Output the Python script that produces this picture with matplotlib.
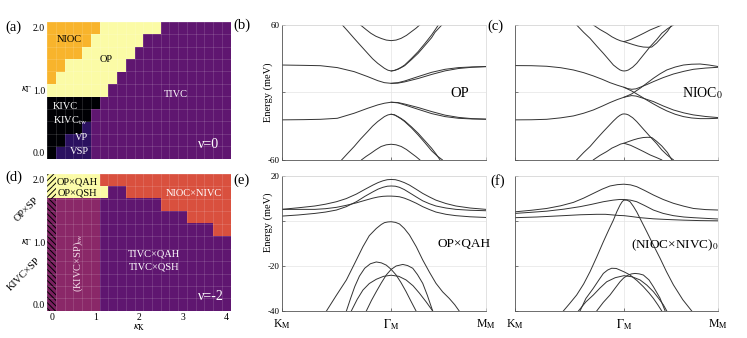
import numpy as np
import matplotlib.pyplot as plt
from matplotlib.colors import ListedColormap
from matplotlib.patches import Rectangle

plt.rcParams['font.family'] = ['Liberation Serif', 'DejaVu Serif']
plt.rcParams['mathtext.fontset'] = 'stix'
plt.rcParams['hatch.linewidth'] = 0.7

# ---------------- phase diagrams ----------------
kappa_K = np.round(np.arange(0, 4.01, 0.2), 2)   # columns
kappa_G = np.round(np.arange(0, 2.01, 0.2), 2)   # rows, bottom -> top

# rows listed from kappa_Gamma = 2.0 (top) down to 0.0
phase_nu0 = [
    "NNNNNNOOOOOOOTTTTTTTT",
    "NNNNNOOOOOOTTTTTTTTTT",
    "NNNNOOOOOOTTTTTTTTTTT",
    "NNOOOOOOOTTTTTTTTTTTT",
    "NOOOOOOOTTTTTTTTTTTTT",
    "OOOOOOOTTTTTTTTTTTTTT",
    "KKKKKKTTTTTTTTTTTTTTT",
    "KKKKKTTTTTTTTTTTTTTTT",
    "KKKKVTTTTTTTTTTTTTTTT",
    "KKVVVTTTTTTTTTTTTTTTT",
    "KVVVVTTTTTTTTTTTTTTTT",
]
phase_nu2 = [
    "HOOOOORRRRRRRRRRRRRRR",
    "HOOOOOOTTRRRRRRRRRRRR",
    "SMMMMMTTTTTTTRRRRRRRR",
    "SMMMMMTTTTTTTTTTRRRRR",
    "SMMMMMTTTTTTTTTTTTTRR",
    "SMMMMMTTTTTTTTTTTTTTT",
    "SMMMMMTTTTTTTTTTTTTTT",
    "SMMMMMTTTTTTTTTTTTTTT",
    "SMMMMMTTTTTTTTTTTTTTT",
    "SMMMMMTTTTTTTTTTTTTTT",
    "SMMMMMTTTTTTTTTTTTTTT",
]
phase_colors = {
    'N': '#f8b42c', 'O': '#fbfba6', 'T': '#5f1670', 'K': '#000004',
    'V': '#2b1160', 'M': '#8a2868', 'R': '#d9503e', 'H': '#fbfba6',
    'S': '#7a2060',
}
phase_hatch = {'H': '//////', 'S': '\\\\\\\\\\\\'}

labels_nu0 = ['NIOC', 'OP', 'TIVC', 'KIVC', r'KIVC$_{\rm tw}$', 'VP', 'VSP']
labels_nu0_x = [0.40, 1.24, 2.84, 0.32, 0.42, 0.68, 0.63]
labels_nu0_y = [1.81, 1.49, 0.93, 0.73, 0.50, 0.23, 0.02]
labels_nu0_c = ['black', 'black', 'white', 'white', 'white', 'white', 'white']

labels_nu2 = ['OP×QAH', 'OP×QSH', 'NIOC×NIVC', 'TIVC×QAH', 'TIVC×QSH']
labels_nu2_x = [0.59, 0.59, 3.26, 2.34, 2.34]
labels_nu2_y = [1.97, 1.79, 1.79, 0.82, 0.61]
labels_nu2_c = ['black', 'black', 'white', 'white', 'white']

# ---------------- band structures (k: K_M=0, Gamma_M=1, M_M=1.866) ----------------
k_M = 1.866
k_ticks = [0, 1, k_M]
k_labels = [r'K$_{\rm M}$', r'$\Gamma_{\rm M}$', r'M$_{\rm M}$']

# (b) OP
b_top_k = [0.72, 0.77, 0.815, 0.86, 0.91, 0.955, 1.0, 1.045, 1.09, 1.14, 1.185, 1.225, 1.26]
b_top_e = [60, 56.0, 52.6, 50.0, 48.0, 46.6, 46.1, 46.6, 48.1, 50.8, 54.1, 57.0, 60]
b_v1_k = [0.554, 0.60, 0.662, 0.72, 0.785, 0.83, 0.877, 0.938, 0.97, 1.0, 1.03, 1.062,
          1.09, 1.123, 1.185, 1.246, 1.31, 1.369, 1.40, 1.431]
b_v1_e = [60, 55.0, 48.1, 41.8, 34.8, 30.0, 25.9, 21.5, 19.8, 19.1, 19.6, 20.9,
          22.3, 24.4, 30.2, 36.3, 43.8, 51.1, 55.5, 60]
b_v2_k = [1.0, 1.03, 1.062, 1.09, 1.123, 1.185, 1.246, 1.31, 1.369, 1.40, 1.462]
b_v2_e = [19.1, 19.6, 20.6, 22.0, 23.8, 29.2, 34.8, 42.0, 48.7, 53.5, 60]
b_f1_k = [0, 0.2, 0.354, 0.508, 0.662, 0.785, 0.877, 0.938, 1.0, 1.062, 1.123, 1.246,
          1.369, 1.492, 1.615, 1.738, 1.866]
b_f1_e = [24.4, 24.1, 23.8, 22.1, 18.5, 14.1, 10.5, 8.7, 8.1, 8.7, 10.2, 14.1,
          17.9, 20.6, 22.1, 22.7, 23.0]
b_f2_k = [1.0, 1.062, 1.123, 1.246, 1.369, 1.492, 1.615, 1.738, 1.866]
b_f2_e = [8.1, 8.3, 9.4, 12.4, 16.0, 19.2, 21.3, 22.4, 23.0]
b_f3_k = b_f1_k
b_f3_e = [-24.4, -24.2, -23.9, -23.0, -18.5, -14.1, -11.1, -9.6, -8.7, -9.3, -11.1, -15.0,
          -18.8, -21.5, -23.0, -23.6, -23.8]
b_f4_k = b_f2_k
b_f4_e = [-8.7, -9.0, -10.3, -13.4, -17.0, -20.2, -22.2, -23.3, -23.8]
b_v3_k = [0.548, 0.60, 0.662, 0.72, 0.785, 0.83, 0.877, 0.938, 0.97, 1.0, 1.03, 1.062,
          1.09, 1.123, 1.185, 1.246, 1.31, 1.369, 1.41, 1.446]
b_v3_e = [-60, -54.5, -48.1, -41.5, -34.8, -30.0, -25.9, -21.5, -20.0, -19.4, -19.9, -21.5,
          -23.1, -25.3, -30.6, -36.3, -43.2, -49.6, -54.8, -60]
b_v4_k = [1.0, 1.03, 1.062, 1.09, 1.123, 1.185, 1.246, 1.31, 1.369, 1.42, 1.468]
b_v4_e = [-19.4, -20.0, -21.8, -23.5, -25.9, -31.5, -37.8, -45.0, -51.9, -56.5, -60]
b_bot_k = [0.729, 0.77, 0.815, 0.86, 0.908, 0.955, 1.0, 1.045, 1.092, 1.14, 1.185, 1.225, 1.262]
b_bot_e = [-60, -57.0, -54.1, -51.0, -48.1, -46.6, -46.1, -46.6, -48.1, -50.8, -54.1, -57.0, -60]

# (c) NIOC_0
c_top_k = [0.719, 0.78, 0.842, 0.89, 0.934, 0.97, 1.0, 1.06, 1.117, 1.18, 1.240, 1.30, 1.347]
c_top_e = [60, 56.0, 52.6, 49.5, 47.3, 45.9, 45.2, 47.0, 49.6, 52.6, 55.6, 58.0, 60]
c_top2_k = [1.0, 1.045, 1.087, 1.13, 1.178, 1.22, 1.255, 1.30, 1.347, 1.40, 1.439]
c_top2_e = [45.2, 43.8, 42.5, 41.3, 40.4, 40.2, 40.4, 44.0, 49.0, 54.5, 60]
c_v1_k = [0.566, 0.63, 0.689, 0.75, 0.811, 0.86, 0.903, 0.94, 0.964, 0.985, 1.0, 1.02,
          1.041, 1.08, 1.117, 1.18, 1.240, 1.30, 1.347, 1.40, 1.454]
c_v1_e = [60, 53.5, 48.1, 41.3, 34.8, 29.3, 24.4, 21.6, 20.0, 19.3, 19.1, 19.3,
          20.0, 22.5, 25.9, 33.5, 40.7, 47.0, 52.6, 56.7, 60]
c_fa_k = [0, 0.15, 0.291, 0.42, 0.536, 0.63, 0.719, 0.80, 0.872, 0.94, 1.0, 1.071, 1.148,
          1.21, 1.270, 1.33, 1.393, 1.47, 1.546, 1.62, 1.699, 1.78, 1.867]
c_fa_e = [23.9, 23.8, 23.3, 22.0, 20.0, 17.6, 14.7, 11.7, 8.7, 6.4, 4.6, 1.3, -3.1,
          -6.8, -10.2, -13.4, -16.4, -19.4, -21.5, -22.7, -23.3, -23.3, -23.0]
c_fb_k = c_fa_k
c_fb_e = [-24.4, -24.3, -23.9, -22.6, -20.9, -18.5, -15.6, -12.2, -9.0, -6.3, -4.3, -1.3, 3.7,
          8.2, 12.6, 16.5, 20.0, 22.6, 24.4, 25.1, 25.3, 24.4, 23.0]
c_fc_k = [1.0, 1.035, 1.071, 1.11, 1.148, 1.21, 1.270, 1.36, 1.454, 1.55, 1.638, 1.75, 1.867]
c_fc_e = [4.6, 3.4, 2.8, 3.2, 4.6, 7.0, 9.6, 13.2, 16.4, 18.8, 20.6, 21.7, 22.4]
c_fd_k = c_fc_k
c_fd_e = [-4.3, -3.5, -2.8, -3.2, -4.3, -6.2, -8.1, -12.0, -15.6, -18.2, -20.0, -21.4, -22.4]
c_v2_k = c_v1_k
c_v2_e = [-60, -53.5, -48.1, -41.3, -34.8, -29.8, -25.4, -22.0, -20.3, -19.3, -19.1, -19.3,
          -20.0, -22.5, -25.9, -32.8, -39.3, -45.5, -51.1, -56.0, -60]
c_bot_k = c_top_k
c_bot_e = [-60, -56.0, -52.6, -49.5, -47.6, -45.9, -45.2, -47.0, -49.6, -52.6, -55.6, -58.0, -60]
c_bot2_k = c_top2_k
c_bot2_e = [-45.2, -43.6, -42.2, -41.0, -40.1, -39.9, -40.1, -43.5, -47.6, -53.5, -60]

# (e) OP x QAH
e_k = [0, 0.15, 0.303, 0.40, 0.5, 0.59, 0.682, 0.76, 0.833, 0.88, 0.924, 0.965, 1.0,
       1.038, 1.076, 1.12, 1.167, 1.23, 1.288, 1.35, 1.409, 1.50, 1.591, 1.72, 1.864]
e_c1 = [5.2, 5.9, 6.7, 7.5, 8.6, 10.0, 12.0, 14.1, 16.0, 17.1, 17.9, 18.4, 18.5,
        18.4, 17.9, 17.1, 16.0, 14.1, 12.3, 10.7, 9.3, 7.8, 6.7, 5.8, 5.2]
e_c2 = [2.2, 2.7, 3.4, 4.0, 4.9, 6.4, 8.6, 11.0, 13.0, 14.2, 15.0, 15.5, 15.6,
        15.5, 15.0, 14.0, 12.6, 10.7, 9.0, 7.7, 6.7, 5.8, 5.2, 4.8, 4.6]
e_c3 = [5.2, 5.2, 5.2, 5.5, 6.1, 7.0, 8.1, 9.2, 10.2, 10.7, 11.0, 11.1, 11.1,
        11.0, 10.8, 10.2, 9.3, 7.9, 6.4, 5.1, 4.0, 3.0, 2.4, 1.9, 1.6]
e_v1_k = [0.409, 0.50, 0.591, 0.67, 0.742, 0.80, 0.864, 0.91, 0.939, 0.97, 1.0, 1.04, 1.076,
          1.12, 1.167, 1.23, 1.288, 1.35, 1.409, 1.47, 1.530, 1.58, 1.621]
e_v1_e = [-40, -33.0, -26.2, -18.5, -11.4, -6.5, -3.3, -1.5, -0.7, -0.4, -0.3, -0.6, -1.3,
          -3.3, -6.2, -11.5, -17.3, -22.8, -27.7, -31.5, -34.4, -37.2, -40]
e_v2_k = [0.591, 0.63, 0.667, 0.71, 0.758, 0.81, 0.864, 0.91, 0.955, 1.0, 1.045, 1.09, 1.136, 1.18, 1.227]
e_v2_e = [-40, -34.3, -29.2, -24.5, -21.0, -19.0, -18.2, -18.6, -19.6, -21.5, -24.0, -27.4, -31.4, -35.6, -40]
e_v3_k = [0.773, 0.82, 0.864, 0.91, 0.955, 1.0, 1.045, 1.106, 1.15, 1.197, 1.24, 1.288, 1.33, 1.379]
e_v3_e = [-40, -35.3, -31.4, -27.5, -24.0, -21.5, -20.0, -19.3, -19.8, -21.0, -23.8, -27.7, -33.0, -40]
e_v4_k = [0.636, 0.69, 0.742, 0.80, 0.864, 0.93, 1.0, 1.07, 1.136, 1.20, 1.258, 1.32, 1.379]
e_v4_e = [-40, -34.8, -30.7, -27.8, -25.9, -24.6, -24.1, -24.6, -26.2, -28.8, -32.1, -36.0, -40]

# (f) (NIOC x NIVC)_0
f_c1_k = [0, 0.15, 0.291, 0.42, 0.536, 0.63, 0.719, 0.80, 0.872, 0.94, 1.0, 1.06, 1.117,
          1.19, 1.270, 1.36, 1.454, 1.55, 1.638, 1.75, 1.867]
f_c1_e = [4.1, 4.8, 5.6, 6.8, 8.3, 10.2, 12.3, 14.2, 15.6, 16.2, 16.4, 16.1, 15.3,
          13.6, 11.6, 9.6, 7.9, 6.6, 5.6, 5.1, 4.9]
f_c2_k = [0, 0.15, 0.291, 0.45, 0.597, 0.70, 0.811, 0.90, 0.96, 1.0, 1.06, 1.117, 1.19,
          1.270, 1.36, 1.454, 1.55, 1.638, 1.75, 1.867]
f_c2_e = [3.4, 3.9, 4.4, 5.3, 6.4, 7.4, 8.6, 9.3, 9.6, 9.6, 9.3, 8.6, 6.9,
          4.9, 3.4, 2.4, 1.8, 1.5, 1.2, 0.9]
f_c3_k = [0, 0.2, 0.444, 0.60, 0.750, 0.83, 0.903, 0.95, 1.0, 1.07, 1.148, 1.27, 1.393, 1.55, 1.70, 1.867]
f_c3_e = [1.5, 1.8, 2.4, 2.8, 3.0, 3.0, 2.7, 2.5, 2.4, 2.0, 1.5, 1.0, 0.7, 0.4, 0.2, 0.1]
f_v1_k = [0.444, 0.50, 0.566, 0.63, 0.689, 0.75, 0.811, 0.86, 0.903, 0.935, 0.964, 0.985, 1.0,
          1.028, 1.056, 1.087, 1.117, 1.16, 1.209, 1.27, 1.332, 1.39, 1.454, 1.54, 1.622]
f_v1_e = [-40, -36.8, -32.9, -28.0, -22.5, -16.0, -9.2, -4.0, 0.4, 4.2, 7.1, 8.7, 9.3,
          9.3, 8.6, 6.5, 4.1, 0.0, -4.7, -10.7, -16.6, -22.5, -28.4, -35.0, -40]
f_v2_k = [0.597, 0.65, 0.719, 0.77, 0.811, 0.85, 0.887, 0.93, 0.964, 1.01, 1.056, 1.12,
          1.178, 1.23, 1.270, 1.31, 1.347]
f_v2_e = [-40, -34.5, -29.9, -26.2, -23.3, -21.8, -21.0, -21.1, -21.8, -22.8, -24.0, -26.5,
          -29.2, -32.0, -34.4, -37.2, -40]
f_v3_k = [0.750, 0.81, 0.872, 0.92, 0.964, 1.0, 1.041, 1.07, 1.102, 1.14, 1.178, 1.23, 1.270, 1.33, 1.378]
f_v3_e = [-40, -36.2, -32.9, -29.8, -27.0, -25.2, -24.0, -23.5, -23.3, -23.5, -24.0, -26.2, -29.2, -34.2, -40]
f_v4_k = [0.582, 0.65, 0.719, 0.78, 0.842, 0.92, 1.0, 1.075, 1.148, 1.21, 1.270, 1.32, 1.362, 1.393]
f_v4_e = [-40, -36.0, -32.9, -29.8, -27.0, -25.2, -24.3, -24.8, -26.2, -28.5, -31.4, -34.5, -37.3, -40]


def draw_phase(ax, rows):
    codes = sorted(set(''.join(rows)))
    lut = {c: i for i, c in enumerate(codes)}
    grid = np.array([[lut[c] for c in r] for r in rows])
    cmap = ListedColormap([phase_colors[c] for c in codes])
    ext = [kappa_K[0] - 0.1, kappa_K[-1] + 0.1, kappa_G[0] - 0.1, kappa_G[-1] + 0.1]
    ax.imshow(grid, cmap=cmap, vmin=-0.5, vmax=len(codes) - 0.5, extent=ext,
              aspect='auto', interpolation='nearest')
    for i, r in enumerate(rows):
        yc = kappa_G[::-1][i]
        for j, c in enumerate(r):
            if c in phase_hatch:
                ax.add_patch(Rectangle((kappa_K[j] - 0.1, yc - 0.1), 0.2, 0.2,
                                       facecolor='none', edgecolor='black',
                                       hatch=phase_hatch[c], lw=0))
    ax.set_xticks(np.append(kappa_K - 0.1, kappa_K[-1] + 0.1), minor=True)
    ax.set_yticks(np.append(kappa_G - 0.1, kappa_G[-1] + 0.1), minor=True)
    ax.grid(which='minor', color='white', alpha=0.18, lw=0.5)
    ax.set_axisbelow(False)
    for s in ax.spines.values():
        s.set_visible(False)
    ax.set_yticks([0, 1, 2])
    ax.set_yticklabels(['0.0', '1.0', '2.0'], fontsize=7)
    ax.tick_params(which='both', length=0, pad=1.5)
    ax.text(-0.11, 0.5, r'$\kappa_\Gamma$', transform=ax.transAxes, rotation=0,
            fontsize=8, ha='center', va='center')


def draw_bands(ax, curves, ylim, yticks, yticklabels, xlabels):
    for k, e in curves:
        ax.plot(k, e, color='#333333', lw=0.7)
    ax.set_xlim(0, k_M)
    ax.set_ylim(*ylim)
    ax.set_xticks(k_ticks)
    ax.set_yticks(yticks)
    ax.grid(True, color='#e4e4e4', lw=0.5)
    ax.set_axisbelow(True)
    ax.set_xticklabels(k_labels if xlabels else [], fontsize=8.5)
    ax.set_yticklabels(yticklabels, fontsize=6.5)
    ax.tick_params(direction='in', length=2, width=0.5, color='#444444', pad=1.5)
    ax.tick_params(axis='x', pad=5)
    for side in ['left', 'bottom']:
        ax.spines[side].set_color('#555555')
        ax.spines[side].set_linewidth(0.6)
    for side in ['top', 'right']:
        ax.spines[side].set_color('#d6d6d6')
        ax.spines[side].set_linewidth(0.5)


fig = plt.figure(figsize=(7.47, 3.38), dpi=100)
ax_a = fig.add_axes([0.0633, 0.531, 0.2453, 0.405])
ax_d = fig.add_axes([0.0633, 0.080, 0.2453, 0.406])
ax_b = fig.add_axes([0.3771, 0.527, 0.2735, 0.399])
ax_c = fig.add_axes([0.6894, 0.527, 0.2722, 0.399])
ax_e = fig.add_axes([0.3771, 0.080, 0.2735, 0.399])
ax_f = fig.add_axes([0.6894, 0.080, 0.2722, 0.399])

# (a)
draw_phase(ax_a, phase_nu0)
ax_a.set_xticks([])
for t, x, y, c in zip(labels_nu0, labels_nu0_x, labels_nu0_y, labels_nu0_c):
    ax_a.text(x, y, t, color=c, fontsize=7.5, ha='center', va='center')
ax_a.text(3.60, 0.13, 'ν=0', color='white', fontsize=10, ha='center', va='center')

# (d)
draw_phase(ax_d, phase_nu2)
ax_d.set_xticks([0, 1, 2, 3, 4])
ax_d.set_xticklabels(['0', '1', '2', '3', '4'], fontsize=7)
ax_d.set_xlabel(r'$\kappa_{\rm K}$', fontsize=8, labelpad=0)
for t, x, y, c in zip(labels_nu2, labels_nu2_x, labels_nu2_y, labels_nu2_c):
    ax_d.text(x, y, t, color=c, fontsize=7.5, ha='center', va='center')
ax_d.text(0.61, 0.68, r'(KIVC×SP)$_{\rm tw}$', color='#f3dbe8', fontsize=7.5,
          rotation=90, ha='center', va='center')
ax_d.text(3.64, 0.13, 'ν=-2', color='white', fontsize=10, ha='center', va='center')
ax_d.text(-0.112, 0.74, 'OP×SP', transform=ax_d.transAxes, rotation=45,
          fontsize=7.5, ha='center', va='center')
ax_d.text(-0.127, 0.27, 'KIVC×SP', transform=ax_d.transAxes, rotation=45,
          fontsize=7.5, ha='center', va='center')

# (b)
draw_bands(ax_b, [(b_top_k, b_top_e), (b_v1_k, b_v1_e), (b_v2_k, b_v2_e),
                  (b_f1_k, b_f1_e), (b_f2_k, b_f2_e), (b_f3_k, b_f3_e), (b_f4_k, b_f4_e),
                  (b_v3_k, b_v3_e), (b_v4_k, b_v4_e), (b_bot_k, b_bot_e)],
           (-60, 60), [-60, 0, 60], ['-60', '', '60'], False)
ax_b.set_ylabel('Energy (meV)', fontsize=7.5)
ax_b.yaxis.set_label_coords(-0.043, 0.5)
ax_b.text(1.63, -0.7, 'OP', fontsize=10.5, ha='center', va='center')

# (c)
draw_bands(ax_c, [(c_top_k, c_top_e), (c_top2_k, c_top2_e), (c_v1_k, c_v1_e),
                  (c_fa_k, c_fa_e), (c_fb_k, c_fb_e), (c_fc_k, c_fc_e), (c_fd_k, c_fd_e),
                  (c_v2_k, c_v2_e), (c_bot_k, c_bot_e), (c_bot2_k, c_bot2_e)],
           (-60, 60), [-60, 0, 60], [], False)
ax_c.text(1.72, -0.7, r'NIOC$_0$', fontsize=10, ha='center', va='center')

# (e)
draw_bands(ax_e, [(e_k, e_c1), (e_k, e_c2), (e_k, e_c3), (e_v1_k, e_v1_e),
                  (e_v2_k, e_v2_e), (e_v3_k, e_v3_e), (e_v4_k, e_v4_e)],
           (-40, 20), [-40, -20, 0, 20], ['-40', '-20', '', '20'], True)
ax_e.set_ylabel('Energy (meV)', fontsize=7.5)
ax_e.yaxis.set_label_coords(-0.043, 0.66)
ax_e.text(1.67, -10.0, 'OP×QAH', fontsize=9.5, ha='center', va='center')

# (f)
draw_bands(ax_f, [(f_c1_k, f_c1_e), (f_c2_k, f_c2_e), (f_c3_k, f_c3_e), (f_v1_k, f_v1_e),
                  (f_v2_k, f_v2_e), (f_v3_k, f_v3_e), (f_v4_k, f_v4_e)],
           (-40, 20), [-40, -20, 0, 20], [], True)
ax_f.text(1.466, -10.9, r'(NIOC×NIVC)$_0$', fontsize=9.5, ha='center', va='center')

# panel letters
for lab, x, y in [('(a)', 0.007, 0.920), ('(d)', 0.007, 0.475), ('(b)', 0.312, 0.926),
                  ('(e)', 0.312, 0.467), ('(c)', 0.652, 0.922), ('(f)', 0.656, 0.464)]:
    fig.text(x, y, lab, fontsize=10.5, ha='left', va='center')

fig.savefig('out.png', dpi=100)
